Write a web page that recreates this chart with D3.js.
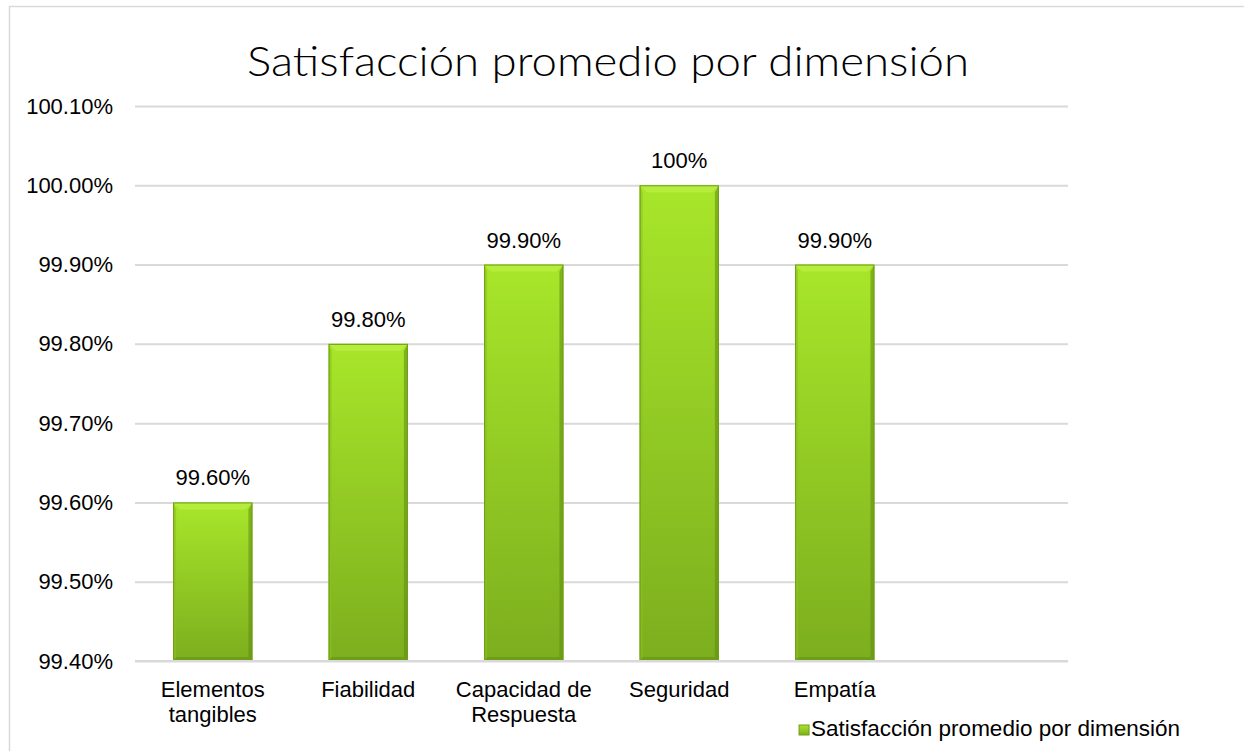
<!DOCTYPE html>
<html>
<head>
<meta charset="utf-8">
<script src="https://cdn.jsdelivr.net/npm/d3@7"></script>
<style>
  body { margin: 0; background: #fff; }
  svg { display: block; }
</style>
</head>
<body>
<svg id="chart" width="1244" height="751"></svg>
<script>
// data
let categories = ["Elementos tangibles", "Fiabilidad", "Capacidad de Respuesta", "Seguridad", "Empatía", ""]
let values = [99.6, 99.8, 99.9, 100.0, 99.9, null]
let valueLabels = ["99.60%", "99.80%", "99.90%", "100%", "99.90%", ""]
let yTicks = [99.4, 99.5, 99.6, 99.7, 99.8, 99.9, 100.0, 100.1]
let seriesName = "Satisfacción promedio por dimensión"
let chartTitle = "Satisfacción promedio por dimensión"

let plotLeft = 135, plotRight = 1068, plotTop = 106, plotBottom = 661
let labelFont = "'Liberation Sans', Arial, sans-serif"

let svg = d3.select("#chart")

// outer frame
svg.append("rect")
  .attr("x", 9.5).attr("y", 6.5)
  .attr("width", 1260).attr("height", 800)
  .style("fill", "none")
  .style("stroke", "#d9d9d9")
  .style("stroke-width", 1.5)

let defs = svg.append("defs")
let grad = defs.append("linearGradient")
  .attr("id", "barGrad")
  .attr("x1", 0).attr("y1", 0).attr("x2", 0).attr("y2", 1)
grad.append("stop").attr("offset", "0%").attr("stop-color", "#a8e62a")
grad.append("stop").attr("offset", "100%").attr("stop-color", "#7cae1e")

let x = d3.scaleBand()
  .domain(d3.range(categories.length))
  .range([plotLeft, plotRight])
  .paddingInner(0.49)
  .paddingOuter(0.245)

let y = d3.scaleLinear()
  .domain([99.4, 100.1])
  .range([plotBottom, plotTop])

// gridlines + y labels
let yAxis = svg.append("g")
  .attr("transform", "translate(" + plotLeft + ",0)")
  .call(d3.axisLeft(y)
    .tickValues(yTicks)
    .tickSize(-(plotRight - plotLeft))
    .tickPadding(22)
    .tickFormat(d => d.toFixed(2) + "%"))
yAxis.select(".domain").remove()
yAxis.selectAll(".tick line")
  .style("stroke", "#d9d9d9")
  .style("stroke-width", 2)
yAxis.selectAll(".tick text")
  .style("font-family", labelFont)
  .style("font-size", "22px")
  .style("fill", "#000")

// bars
let barData = values.map((v, i) => ({ v: v, i: i })).filter(d => d.v != null)
let bars = svg.append("g")
  .selectAll("g.bar")
  .data(barData)
  .enter()
  .append("g")
  .attr("class", "bar")

bars.append("rect")
  .attr("x", d => x(d.i))
  .attr("y", d => y(d.v))
  .attr("width", x.bandwidth())
  .attr("height", d => y(99.4) - y(d.v))
  .style("fill", "url(#barGrad)")

// bevel: top highlight, darker sides and bottom
let bev = 7
bars.append("path")
  .attr("d", d => {
    let x0 = x(d.i), x1 = x0 + x.bandwidth(), y0 = y(d.v)
    return "M" + x0 + "," + y0 + "L" + x1 + "," + y0 + "L" + (x1 - bev) + "," + (y0 + bev) + "L" + (x0 + bev) + "," + (y0 + bev) + "Z"
  })
  .style("fill", "#b9ef45")
  .style("opacity", 0.8)
bars.append("path")
  .attr("d", d => {
    let x0 = x(d.i), x1 = x0 + x.bandwidth(), y0 = y(d.v), y1 = y(99.4)
    return "M" + x1 + "," + y0 + "L" + x1 + "," + y1 + "L" + (x1 - 4) + "," + (y1 - 4) + "L" + (x1 - 4) + "," + (y0 + bev) + "Z"
  })
  .style("fill", "#5e8a12")
  .style("opacity", 0.55)
bars.append("path")
  .attr("d", d => {
    let x0 = x(d.i), y0 = y(d.v), y1 = y(99.4)
    return "M" + x0 + "," + y0 + "L" + x0 + "," + y1 + "L" + (x0 + 3) + "," + (y1 - 3) + "L" + (x0 + 3) + "," + (y0 + bev) + "Z"
  })
  .style("fill", "#8cc21f")
  .style("opacity", 0.6)
bars.append("path")
  .attr("d", d => {
    let x0 = x(d.i), x1 = x0 + x.bandwidth(), y1 = y(99.4)
    return "M" + x0 + "," + y1 + "L" + x1 + "," + y1 + "L" + (x1 - 4) + "," + (y1 - 4) + "L" + (x0 + 3) + "," + (y1 - 4) + "Z"
  })
  .style("fill", "#5e8a12")
  .style("opacity", 0.45)
bars.append("rect")
  .attr("x", d => x(d.i) + 0.5)
  .attr("y", d => y(d.v) + 0.5)
  .attr("width", x.bandwidth() - 1)
  .attr("height", d => y(99.4) - y(d.v) - 1)
  .style("fill", "none")
  .style("stroke", "#6f9d17")
  .style("stroke-width", 1)

// value labels
svg.append("g")
  .selectAll("text")
  .data(barData)
  .enter()
  .append("text")
  .attr("x", d => x(d.i) + x.bandwidth() / 2)
  .attr("y", d => y(d.v) - 17)
  .attr("text-anchor", "middle")
  .text(d => valueLabels[d.i])
  .style("font-family", labelFont)
  .style("font-size", "22px")
  .style("fill", "#000")

// baseline
svg.append("line")
  .attr("x1", plotLeft).attr("x2", plotRight)
  .attr("y1", y(99.4)).attr("y2", y(99.4))
  .style("stroke", "#d9d9d9")
  .style("stroke-width", 2)

// category labels (wrapped in two lines)
let wrap = {
  "Elementos tangibles": ["Elementos", "tangibles"],
  "Capacidad de Respuesta": ["Capacidad de", "Respuesta"]
}
let catG = svg.append("g")
categories.forEach((c, i) => {
  let lines = wrap[c] || [c]
  let t = catG.append("text")
    .attr("x", x(i) + x.bandwidth() / 2)
    .attr("y", 697)
    .attr("text-anchor", "middle")
    .style("font-family", labelFont)
    .style("font-size", "22px")
    .style("fill", "#000")
  lines.forEach((l, k) => {
    t.append("tspan")
      .attr("x", x(i) + x.bandwidth() / 2)
      .attr("dy", k == 0 ? 0 : 25)
      .text(l)
  })
})

// title
svg.append("text")
  .attr("x", 608)
  .attr("y", 76)
  .attr("text-anchor", "middle")
  .attr("textLength", 722)
  .attr("lengthAdjust", "spacingAndGlyphs")
  .text(chartTitle)
  .style("font-family", "'URW Gothic', 'Century Gothic', Lato, 'DejaVu Sans', sans-serif")
  .style("font-weight", 300)
  .style("font-size", "41px")
  .style("fill", "#000")

// legend
let legText = svg.append("text")
  .attr("x", 1180)
  .attr("y", 736)
  .attr("text-anchor", "end")
  .text(seriesName)
  .style("font-family", labelFont)
  .style("font-size", "22.5px")
  .style("fill", "#000")
let legStart = 1180 - legText.node().getComputedTextLength()
svg.append("rect")
  .attr("x", legStart - 12).attr("y", 725)
  .attr("width", 10).attr("height", 10)
  .style("fill", "url(#barGrad)")
  .style("stroke", "#6f9d17")
  .style("stroke-width", 1)
</script>
</body>
</html>
